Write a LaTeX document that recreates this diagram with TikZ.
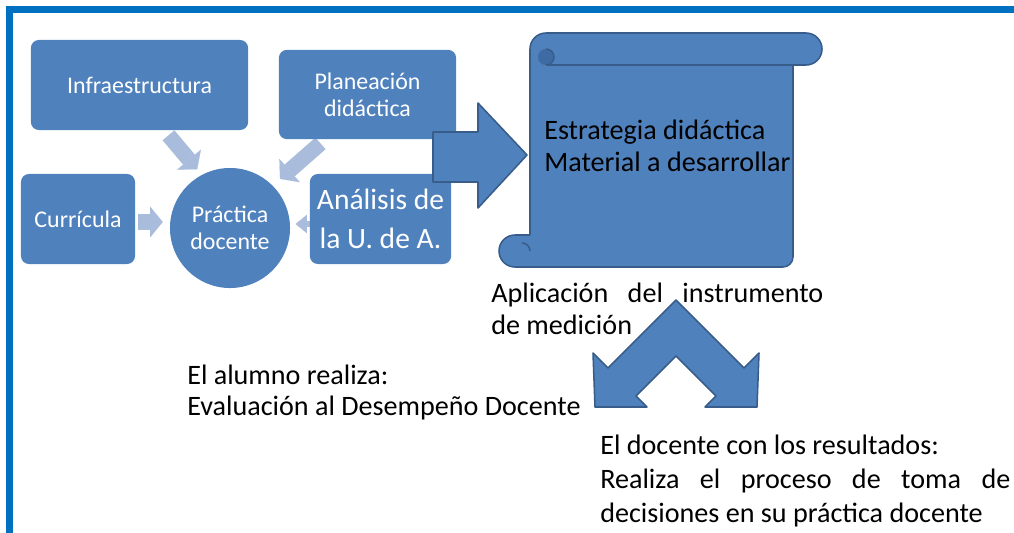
\documentclass[tikz,border=0pt]{standalone}
\usepackage{fontspec}
\setmainfont{Carlito}
\usetikzlibrary{arrows.meta,calc}
\definecolor{boxblue}{HTML}{4F81BD}
\definecolor{edgeblue}{HTML}{385D8A}
\definecolor{paleblue}{HTML}{A9BCDB}
\definecolor{framecol}{HTML}{0070C0}
\definecolor{curldark}{HTML}{3E6BA3}
\pgfdeclarelayer{background}
\pgfsetlayers{background,main}

\begin{document}
\begin{tikzpicture}[x=0.025cm, y=0.025cm,
  box/.style={rectangle, rounded corners=0.2cm, fill=boxblue, text=white, align=center, font=\fontsize{17}{19.5}\selectfont},
  pale/.style={draw=paleblue, line width=11pt, -{Triangle[length=9pt,width=22pt,line width=0.1pt]}},
  blockfill/.style={fill=boxblue, draw=edgeblue, line width=1.1pt, line join=round},
  note/.style={anchor=west, align=left, inner sep=0pt, font=\fontsize{20}{23}\selectfont}]

\useasboundingbox (0,0) rectangle (1014,-533);
\fill[framecol] (6,-6) rectangle (1014,-13);
\fill[framecol] (6,-6) rectangle (13,-533);

\node[box, minimum width=5.43cm, minimum height=2.25cm] (infra) at (139.5,-85) {Infraestructura};
\node[box, minimum width=4.43cm, minimum height=2.23cm] (plan) at (367.5,-94.5) {Planeación\\didáctica};
\node[box, minimum width=2.85cm, minimum height=2.25cm] (cur) at (78,-219) {Currícula};
\node[box, minimum width=3.53cm, minimum height=2.25cm, font=\fontsize{21}{27.5}\selectfont] (anal) at (380.5,-219) {Análisis de\\la U. de A.};
\node[box, circle, minimum size=3cm, inner sep=0pt] (prac) at (230,-228) {Práctica\\docente};

\begin{pgfonlayer}{background}
\fill[white] (0,0) rectangle (1014,-533);
\draw[pale] ($(cur.east)+(3,-3)$) -- ($(prac.west)+(-7,6)$);
\draw[pale, shorten >=5pt] ($(infra.south)+(29,-5)$) -- (prac.118);
\draw[pale, shorten >=7pt] ($(plan.south)+(-47,-4)$) -- (prac.45);
\draw[pale, line width=4pt, -{Triangle[length=8pt,width=13pt,line width=0.1pt]}] ($(anal.west)+(2,-5)$) -- ($(anal.west)+(-14,-5)$);
\end{pgfonlayer}

% big arrow to the scroll
\path[blockfill] (433,-132) -- (478,-132) -- (478,-103) -- (527,-155) -- (478,-208) -- (478,-182) -- (433,-182) -- cycle;

% scroll
\path[blockfill] (546,-33) -- (806,-33) arc[start angle=90,end angle=-90,radius=16] -- (793,-65)
  -- (793,-257) arc[start angle=0,end angle=-90,radius=10] -- (515,-267)
  arc[start angle=-90,end angle=-270,radius=16] -- (530,-235) -- (530,-49)
  arc[start angle=180,end angle=90,radius=16] -- cycle;
\draw[edgeblue, line width=1.1pt] (546,-65) -- (793,-65);
\fill[curldark] (546,-57) circle[radius=8];
\draw[edgeblue, line width=1.1pt] (546,-65) arc[start angle=-90,end angle=90,radius=8];
\draw[edgeblue, line width=1.1pt] (530,-251) arc[start angle=0,end angle=90,radius=8];
\node[note, font=\fontsize{20}{22.8}\selectfont] (estr) at (544,-146) {Estrategia didáctica\\Material a desarrollar};

% split arrow
\path[blockfill] (676,-300) -- (608,-368) -- (593,-353) -- (595,-407) -- (647,-407) -- (636,-396)
  -- (676,-356) -- (716,-396) -- (705,-407) -- (757,-407) -- (759,-353) -- (744,-368) -- cycle;

\node[note] (apl) at (491,-309) {\makebox[8.3cm][s]{Aplicación del instrumento}\\de medición};
\node[note, font=\fontsize{20}{22}\selectfont] (alumno) at (187,-392.5) {El alumno realiza:\\Evaluación al Desempeño Docente};
\node[note, font=\fontsize{20}{24}\selectfont] (doc) at (600,-481) {El docente con los resultados:\\\makebox[10.25cm][s]{Realiza el proceso de toma de}\\decisiones en su práctica docente};

\end{tikzpicture}
\end{document}
